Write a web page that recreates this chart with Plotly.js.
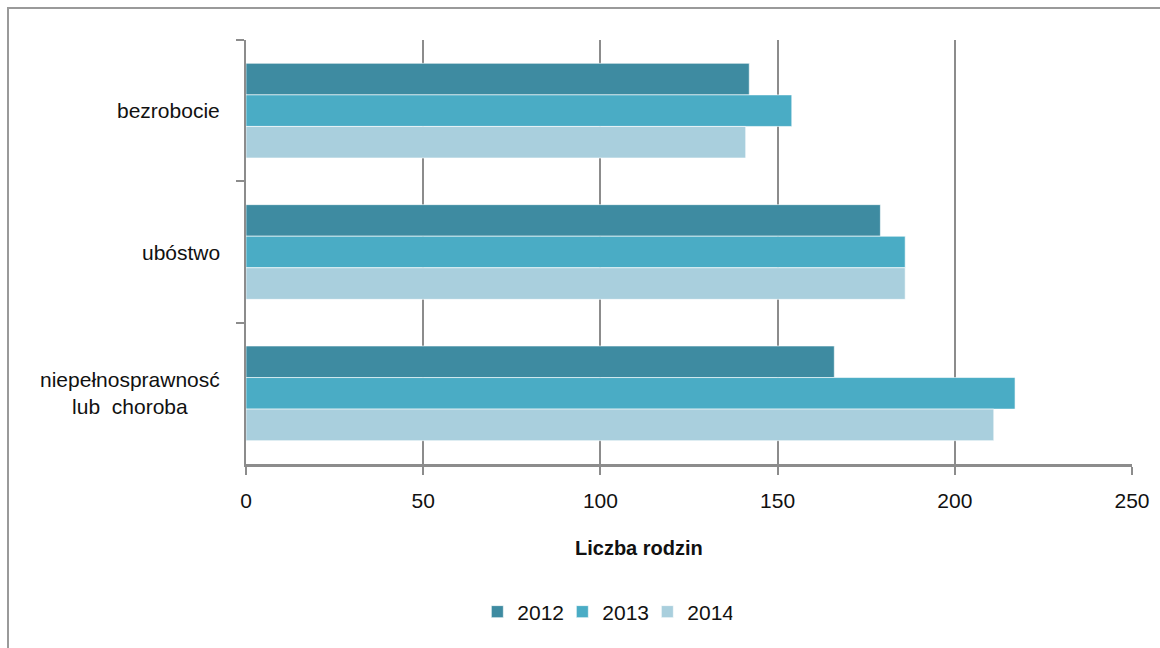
<!DOCTYPE html>
<html>
<head>
<meta charset="utf-8">
<script src="https://cdn.plot.ly/plotly-3.0.1.min.js"></script>
<style>
  html, body { margin: 0; padding: 0; background: #fff; }
  #chart { width: 1160px; height: 648px; position: absolute; left: 0; top: 0; }
  #frame { position: absolute; left: 7px; top: 7px; width: 1200px; height: 700px;
           border: 2px solid #9a9a9a; pointer-events: none; box-sizing: border-box; }
</style>
</head>
<body>
<div id="chart"></div>
<div id="frame"></div>
<script>
const categories = ["bezrobocie", "ubóstwo", "niepełnosprawnosć<br>lub  choroba"];
const years = ["2012", "2013", "2014"];
const values2012 = [142, 179, 166];
const values2013 = [154, 186, 217];
const values2014 = [141, 186, 211];
const xTicks = [0, 50, 100, 150, 200, 250];
const xTitle = "Liczba rodzin";

const FONT = "'Liberation Sans', Arial, sans-serif";
const colors = ["#3e8ba1", "#4aacc5", "#a9cfdd"];
const series = [values2012, values2013, values2014];

const data = series.map((vals, i) => ({
  type: "bar",
  orientation: "h",
  name: years[i],
  y: categories,
  x: vals,
  marker: { color: colors[i], line: { color: "rgba(255,255,255,0.6)", width: 1 } },
  hoverinfo: "x+name"
}));

const annotations = categories.map(c => ({
  xref: "paper", yref: "y", x: 0, y: c,
  xanchor: "right", yanchor: "middle", xshift: -24,
  text: c, showarrow: false, align: "center",
  font: { family: FONT, size: 21, color: "#111" }
}));
annotations.push({
  xref: "paper", yref: "paper", x: 0.4436, y: -0.198,
  xanchor: "center", yanchor: "middle",
  text: "<b>" + xTitle + "</b>", showarrow: false,
  font: { family: FONT, size: 20, color: "#111" }
});

const layout = {
  width: 1160, height: 648,
  margin: { l: 246, r: 28, t: 40, b: 184 },
  paper_bgcolor: "#ffffff", plot_bgcolor: "#ffffff",
  barmode: "group", bargap: 0.33, bargroupgap: 0,
  showlegend: true,
  legend: {
    orientation: "h", x: 0.405, y: -0.349, xanchor: "center", yanchor: "middle",
    font: { family: FONT, size: 21, color: "#111" },
    itemwidth: 30, traceorder: "normal",
    entrywidth: 40, entrywidthmode: "pixels"
  },
  xaxis: {
    range: [0, 250], tickvals: xTicks, ticktext: xTicks.map(String),
    showgrid: true, gridcolor: "#8c8c8c", gridwidth: 2,
    showline: true, linecolor: "#8c8c8c", linewidth: 3,
    ticks: "outside", ticklen: 8, tickwidth: 2, tickcolor: "#8c8c8c",
    ticklabelstandoff: 8,
    tickfont: { family: FONT, size: 21, color: "#111" },
    zeroline: false, fixedrange: true
  },
  yaxis: {
    type: "category", autorange: "reversed",
    showticklabels: false, tickson: "boundaries",
    ticks: "outside", ticklen: 8, tickwidth: 2, tickcolor: "#8c8c8c",
    showline: true, linecolor: "#8c8c8c", linewidth: 2,
    showgrid: false, zeroline: false, fixedrange: true
  },
  annotations: annotations
};

Plotly.newPlot("chart", data, layout, { displayModeBar: false, staticPlot: true });
</script>
</body>
</html>
